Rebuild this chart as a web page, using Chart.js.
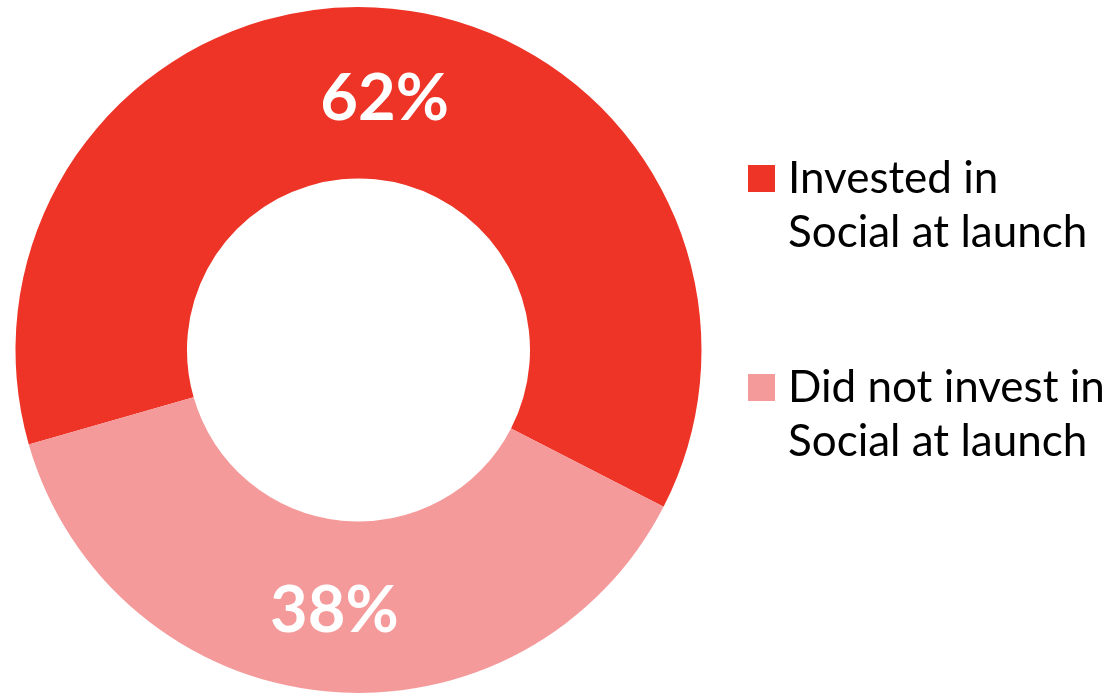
<!DOCTYPE html>
<html>
<head>
<meta charset="utf-8">
<script src="https://cdn.jsdelivr.net/npm/chart.js@4"></script>
<style>
  html, body { margin: 0; padding: 0; background: #fff; }
  #wrap { width: 1109px; height: 696px; position: relative; }
</style>
</head>
<body>
<div id="wrap"><canvas id="donut"></canvas></div>
<script>
// slices
const labels = [
  ['Invested in', 'Social at launch'],
  ['Did not invest in', 'Social at launch']
]
const shares = [62, 38]
const colors = ['#EE3427', '#F59A9A']

// where each legend entry starts (top of its swatch)
const legendTops = [165, 374]

// white percentage inside each slice
const sliceLabels = {
  id: 'sliceLabels',
  afterDatasetsDraw(chart) {
    const ctx = chart.ctx
    const meta = chart.getDatasetMeta(0)
    ctx.save()
    ctx.fillStyle = '#fff'
    ctx.font = 'bold 65px Lato'
    ctx.textAlign = 'center'
    ctx.textBaseline = 'middle'
    meta.data.forEach((arc, i) => {
      const p = arc.tooltipPosition()
      ctx.fillText(shares[i] + '%', p.x + 1, p.y + 5)
    })
    ctx.restore()
  }
}

// legend on the right, two lines per entry
const sideLegend = {
  id: 'sideLegend',
  afterDraw(chart) {
    const ctx = chart.ctx
    ctx.save()
    ctx.font = '44px Lato'
    ctx.textBaseline = 'alphabetic'
    ctx.textAlign = 'left'
    labels.forEach((lines, i) => {
      const top = legendTops[i]
      ctx.fillStyle = colors[i]
      ctx.fillRect(748, top, 27, 27)
      ctx.fillStyle = '#000'
      lines.forEach((line, j) => {
        ctx.fillText(line, 788, top + 28 + j * 54)
      })
    })
    ctx.restore()
  }
}

const donut = new Chart(document.getElementById('donut'), {
  type: 'doughnut',
  data: {
    labels: labels.map(l => l.join(' ')),
    datasets: [{
      data: shares,
      backgroundColor: colors,
      borderWidth: 0
    }]
  },
  options: {
    responsive: true,
    maintainAspectRatio: false,
    animation: false,
    cutout: '50%',
    rotation: 254,
    layout: { padding: { left: 15, top: 7, bottom: 3, right: 407 } },
    plugins: {
      legend: { display: false },
      tooltip: { enabled: false }
    }
  },
  plugins: [sliceLabels, sideLegend]
})
</script>
</body>
</html>
